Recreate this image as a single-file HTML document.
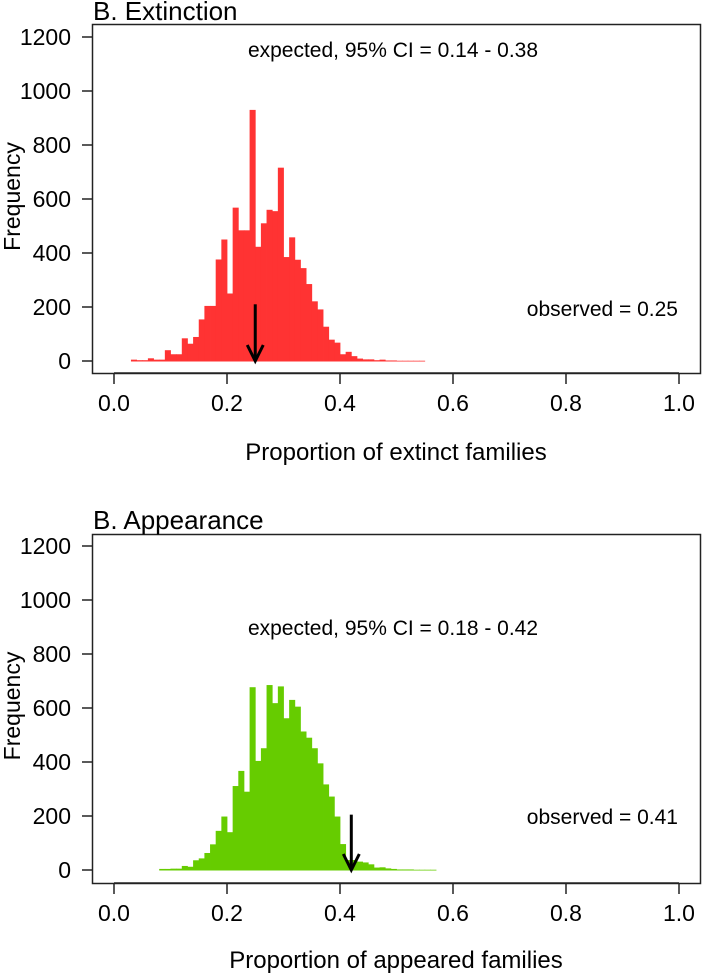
<!DOCTYPE html>
<html><head><meta charset="utf-8"><style>
html,body{margin:0;padding:0;background:#fff;}
svg{display:block;font-family:"Liberation Sans",Arial,sans-serif;}
</style></head><body>
<svg id="chart" width="702" height="974" viewBox="0 0 702 974" xmlns="http://www.w3.org/2000/svg">
<g id="p1"></g>
<g id="p2"></g>
</svg>
<script>
const binWidth = 0.01;
const extStart = 0.03;
const extCounts = [5,3,3,10,5,5,40,25,25,84,64,89,154,204,204,376,450,250,568,484,484,930,423,510,560,555,716,385,458,375,344,285,221,191,127,79,68,25,34,18,9,6,6,3,5,2,2,1,1,1,1,1];
const appStart = 0.08;
const appCounts = [4,4,5,5,15,12,36,43,63,95,145,198,140,311,367,290,677,404,451,685,618,680,562,630,605,513,490,451,395,317,272,198,96,37,37,31,28,21,9,10,6,4,2,2,2,1,1,1,1];
const xTicks = [0.0,0.2,0.4,0.6,0.8,1.0];
const yTicks = [0,200,400,600,800,1000,1200];
const panels = [
 {id:'p1', title:'B. Extinction', start:extStart, counts:extCounts, color:'#ff3333', top:24, bottom:373, y0:361, obs:0.25, arrowTop:210, ci:'expected, 95% CI = 0.14 - 0.38', ciY:57, obsText:'observed = 0.25', obsY:316, titleY:20, xlab:'Proportion of extinct families', xlabY:460, tickLabY:411},
 {id:'p2', title:'B. Appearance', start:appStart, counts:appCounts, color:'#66cc00', top:534, bottom:883, y0:870, obs:0.42, arrowTop:205, ci:'expected, 95% CI = 0.18 - 0.42', ciY:635, obsText:'observed = 0.41', obsY:824, titleY:529, xlab:'Proportion of appeared families', xlabY:968, tickLabY:921}
];
const NS='http://www.w3.org/2000/svg';
function mk(parent,tag,attrs,text){const e=document.createElementNS(NS,tag);for(const k in attrs)e.setAttribute(k,attrs[k]);if(text!==undefined)e.textContent=text;parent.appendChild(e);return e;}
const xs = v => 114 + v*565;
panels.forEach(p=>{
  const g=document.getElementById(p.id);
  const ys = c => p.y0 - c*54/200;
  p.counts.forEach((c,i)=>{
    const x0=xs(p.start+i*binWidth), x1=xs(p.start+(i+1)*binWidth);
    const r=mk(g,'rect',{x:x0,y:ys(c),width:x1-x0+0.4,height:p.y0-ys(c)+0.5,fill:p.color});
    
    
  });
  const box=mk(g,'rect',{x:92.5,y:p.top+0.5,width:608,height:p.bottom-p.top,fill:'none',stroke:'#222','stroke-width':1.5});
  
  
  yTicks.forEach(t=>{
    const y=ys(t);
    mk(g,'line',{x1:82,x2:92,y1:y,y2:y,stroke:'#222','stroke-width':1.5});
    const l=mk(g,'text',{x:71,y:y+8,'text-anchor':'end','font-size':23},String(t));
    
    
  });
  const ax=mk(g,'line',{x1:xs(0),x2:xs(1),y1:p.bottom,y2:p.bottom,stroke:'#222','stroke-width':1.5});
  
  
  xTicks.forEach(t=>{
    mk(g,'line',{x1:xs(t),x2:xs(t),y1:p.bottom,y2:p.bottom+11,stroke:'#222','stroke-width':1.5});
    const l=mk(g,'text',{x:xs(t),y:p.tickLabY,'text-anchor':'middle','font-size':23},t.toFixed(1));
    
    
  });
  const ay=p.y0-(p.y0-p.top)/2+4;
  const yl=mk(g,'text',{x:20,y:ay,'text-anchor':'middle','font-size':23,transform:`rotate(-90 20 ${ay})`},'Frequency');
  
  
  const xl=mk(g,'text',{x:396,y:p.xlabY,'text-anchor':'middle','font-size':24},p.xlab);
  
  
  const tt=mk(g,'text',{x:93,y:p.titleY,'font-size':26},p.title);
  
  
  const ci=mk(g,'text',{x:393,y:p.ciY,'text-anchor':'middle','font-size':21},p.ci);
  
  
  const ob=mk(g,'text',{x:678,y:p.obsY,'text-anchor':'end','font-size':21},p.obsText);
  
  
  const axx=xs(p.obs), at=ys(p.arrowTop);
  const ar=mk(g,'g',{stroke:'#000','stroke-width':3,fill:'none'});
  
  
  mk(ar,'line',{x1:axx,x2:axx,y1:at,y2:p.y0});
  mk(ar,'polyline',{points:`${axx-8},${p.y0-16} ${axx},${p.y0} ${axx+8},${p.y0-16}`});
});
</script>
</body></html>
